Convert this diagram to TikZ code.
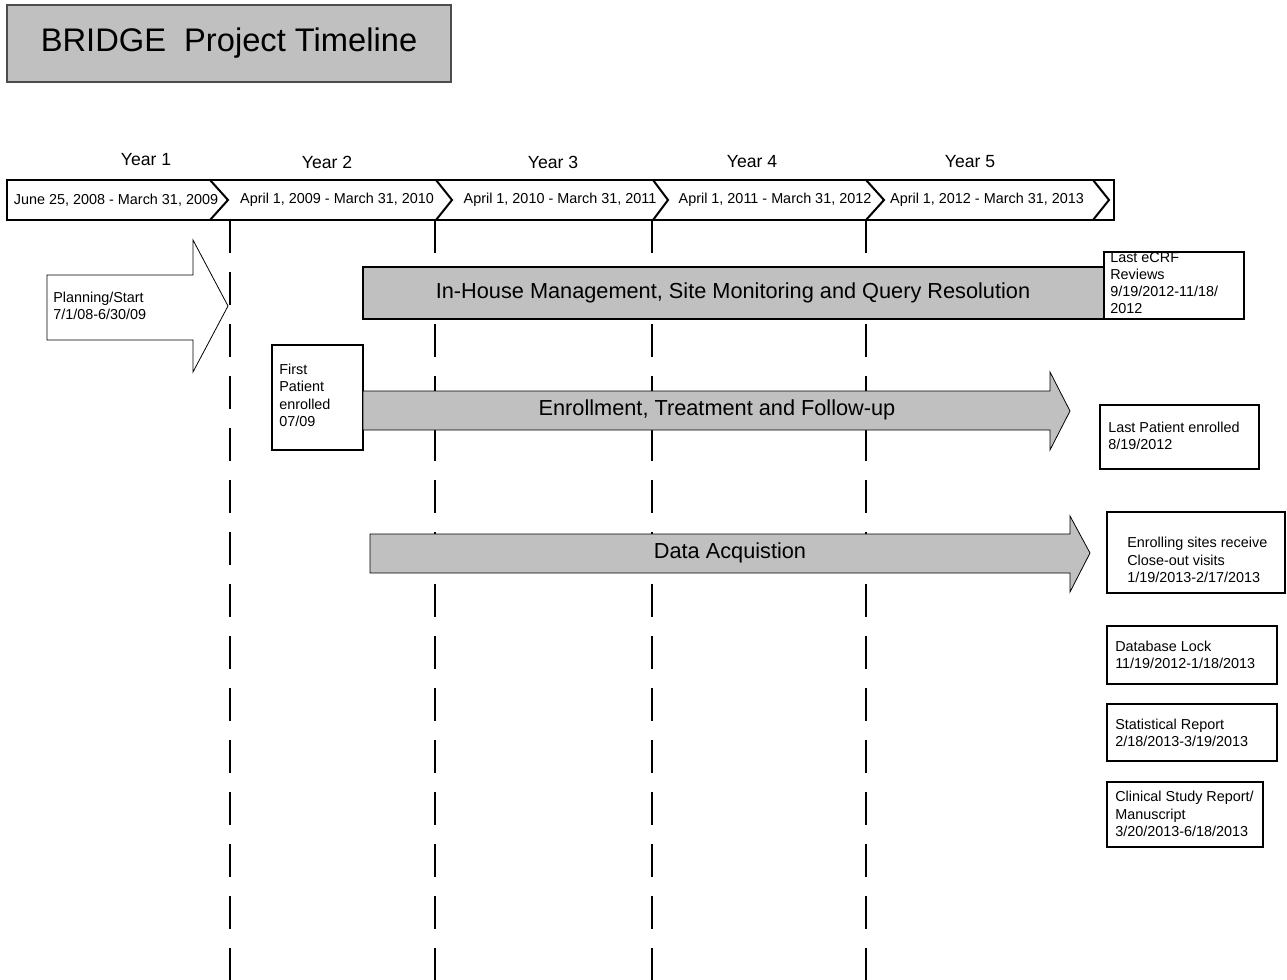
\documentclass[tikz,border=0pt]{standalone}
\usepackage{fontspec}
\setmainfont{Liberation Sans}
\definecolor{boxgray}{RGB}{192,192,192}

\begin{document}
\begin{tikzpicture}[x=0.75pt, y=-0.75pt,
  box/.style={draw, line width=1.5pt, fill=white},
  band/.style={draw, line width=1.5pt, fill=boxgray},
  flow/.style={draw, line width=0.6pt, fill=boxgray},
  divider/.style={line width=1.6pt, dash pattern=on 25pt off 14pt},
  lbl/.style={inner sep=0pt, align=left, font=\fontsize{10.8}{12.9}\selectfont},
  yr/.style={inner sep=0pt, font=\fontsize{13.2}{15}\selectfont},
  big/.style={inner sep=0pt, font=\fontsize{16.3}{19}\selectfont}]
\useasboundingbox (0,0) rectangle (1287,980);

% year dividers
\coordinate (da) at (230,220); \coordinate (da') at (230,980);
\coordinate (db) at (435,220); \coordinate (db') at (435,980);
\coordinate (dc) at (652,220); \coordinate (dc') at (652,980);
\coordinate (dd) at (866,220); \coordinate (dd') at (866,980);
\draw[divider] (da) -- (da');
\draw[divider] (db) -- (db');
\draw[divider] (dc) -- (dc');
\draw[divider] (dd) -- (dd');

% title
\draw[line width=0.8pt, draw=black!70, fill=boxgray] (7,5) rectangle (451,82);
\node[inner sep=0pt, font=\fontsize{24.5}{28}\selectfont] (title) at (229,43) {BRIDGE~~Project Timeline};

% years
\node[yr] (y1) at (146,160) {Year 1};
\node[yr] (y2) at (327,162) {Year 2};
\node[yr] (y3) at (553,162) {Year 3};
\node[yr] (y4) at (752,162) {Year 4};
\node[yr] (y5) at (970,162) {Year 5};

% timeline bar
\draw[line width=1.5pt] (7,180) rectangle (1114,220);
\draw[line width=1.5pt] (210,180) -- (228,200) -- (210,220);
\draw[line width=1.5pt] (436,180) -- (452,200) -- (436,220);
\draw[line width=1.5pt] (653,180) -- (668,200) -- (653,220);
\draw[line width=1.5pt] (866,180) -- (884,200) -- (866,220);
\draw[line width=1.5pt] (1093,180) -- (1109,200) -- (1093,220);
\node[lbl] (p1) at (116,200) {June 25, 2008 - March 31, 2009};
\node[lbl] (p2) at (337,200) {April 1, 2009 - March 31, 2010};
\node[lbl] (p3) at (560,200) {April 1, 2010 - March 31, 2011};
\node[lbl] (p4) at (775,200) {April 1, 2011 - March 31, 2012};
\node[lbl] (p5) at (987,200) {April 1, 2012 - March 31, 2013};

% planning arrow
\draw[line width=0.6pt, fill=white] (47,275) -- (193,275) -- (193,240) -- (228,306)
  -- (193,372) -- (193,340) -- (47,340) -- cycle;
\node[lbl, anchor=west] (plan) at (53,306) {Planning/Start\\7/1/08-6/30/09};

% in-house management
\draw[band] (363,267) rectangle (1104,319);
\node[big] (inhouse) at (733,293) {In-House Management, Site Monitoring and Query Resolution};
\draw[box] (1104,252) rectangle (1244,319);
\node[lbl, anchor=north west] (ecrf) at (1110,252) {Last eCRF\\Reviews\\9/19/2012-11/18/\\2012};

% enrollment
\draw[box] (272,345) rectangle (363,450);
\node[lbl, anchor=north west] (first) at (279,364) {First\\Patient\\enrolled\\07/09};
\draw[flow] (363,391) -- (1050,391) -- (1050,372) -- (1070,411) -- (1050,450)
  -- (1050,430) -- (363,430) -- cycle;
\node[big] (enrol) at (717,410) {Enrollment, Treatment and Follow-up};
\draw[box] (1100,405) rectangle (1259,469);
\node[lbl, anchor=west] (lastpat) at (1108,436) {Last Patient enrolled\\8/19/2012};

% data acquisition
\draw[flow] (370,534) -- (1070,534) -- (1070,516) -- (1090,553) -- (1070,592)
  -- (1070,573) -- (370,573) -- cycle;
\node[big] (data) at (730,553) {Data Acquistion};
\draw[box] (1107,512) rectangle (1285,593);
\node[lbl, anchor=west] (closeout) at (1127,560) {Enrolling sites receive\\Close-out visits\\1/19/2013-2/17/2013};

% close-out boxes
\draw[box] (1107,626) rectangle (1277,684);
\node[lbl, anchor=west] (dblock) at (1115,655) {Database Lock\\11/19/2012-1/18/2013};
\draw[box] (1107,704) rectangle (1277,761);
\node[lbl, anchor=west] (stats) at (1115,733) {Statistical Report\\2/18/2013-3/19/2013};
\draw[box] (1107,782) rectangle (1263,847);
\node[lbl, anchor=west] (csr) at (1115,814) {Clinical Study Report/\\Manuscript\\3/20/2013-6/18/2013};
\end{tikzpicture}
\end{document}
